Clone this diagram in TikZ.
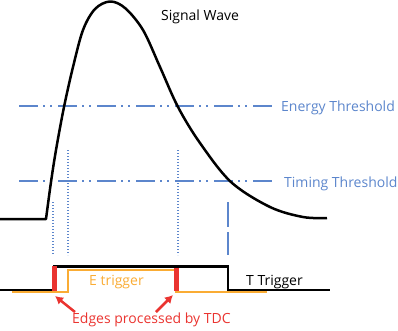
\documentclass[tikz,border=0pt]{standalone}
\usepackage{fontspec}
\setmainfont{Open Sans}
\usetikzlibrary{arrows.meta}
\definecolor{thrblue}{RGB}{92,134,204}
\definecolor{trigorange}{RGB}{250,172,52}
\definecolor{edgered}{RGB}{234,52,48}

\begin{document}
\begin{tikzpicture}[x=1pt,y=-1pt,font=\fontsize{14}{16}\selectfont,
  thr/.style={thrblue,line width=2pt,
    dash pattern=on 19pt off 5pt on 2pt off 5pt on 2pt off 6pt},
  mark line/.style={thrblue,line width=1.8pt,dash pattern=on 1.2pt off 1.8pt},
  lbl/.style={anchor=base west,inner sep=0pt}]
  \useasboundingbox (0,0) rectangle (398,330);
  % thresholds
  \draw[thr,line width=1.6pt] (19,106) -- (273,106);
  \draw[thr,line width=2.2pt] (19,181) -- (273,181);
  \node[lbl,thrblue] (energy) at (281,111.5) {Energy Threshold};
  \node[lbl,thrblue] (timing) at (284,187) {Timing Threshold};
  % crossing marks
  \draw[mark line] (53,202) -- (53,255);
  \draw[mark line] (68,150) -- (68,255);
  \draw[mark line] (178,150) -- (178,255);
  \draw[thrblue,line width=1.5pt,dash pattern=on 25pt off 5pt] (228,202) -- (228,255);
  % signal
  \draw[line width=2.5pt,line join=round] (0,219) -- plot[smooth,tension=0.55] coordinates {
    (46,219) (51,182) (56,150) (64,107) (73,67) (83,30) (95,9) (110,1.5)
    (125,8) (143,30) (160,67) (178,107) (200,143) (231,182) (270,207)
    (303,217) (327,218)};
  \node[lbl] (sig) at (161,20.5) {Signal Wave};
  % triggers
  \draw[trigorange,line width=2pt] (12,292) -- (68,292) -- (68,269.5)
    -- (176,269.5) -- (176,292) -- (267,292);
  \draw[line width=2.5pt] (0,290) -- (54,290) -- (54,266.5)
    -- (228,266.5) -- (228,290) -- (330,290);
  \draw[edgered,line width=5pt] (54,266) -- (54,291);
  \draw[edgered,line width=5pt] (176,268) -- (176,291);
  \node[lbl,trigorange] (etrig) at (89,285) {E trigger};
  \node[lbl] (ttrig) at (246,285) {T Trigger};
  % TDC edges
  \node[lbl,edgered] (tdc) at (72,323) {Edges processed by TDC};
  \coordinate (edgeA) at (55,296);
  \coordinate (edgeB) at (173,295);
  \coordinate (tailA) at (75,312);
  \coordinate (tailB) at (156,312);
  \draw[edgered,line width=2.5pt,-{Latex[length=8pt,width=9pt]}] (tailA) -- (edgeA);
  \draw[edgered,line width=2.5pt,-{Latex[length=8pt,width=9pt]}] (tailB) -- (edgeB);
\end{tikzpicture}
\end{document}
